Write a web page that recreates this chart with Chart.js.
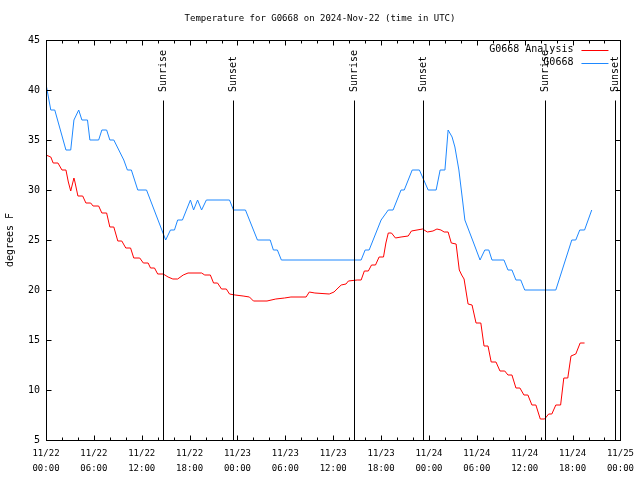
<!DOCTYPE html>
<html>
<head>
<meta charset="utf-8">
<script src="https://cdn.jsdelivr.net/npm/chart.js@4.4.1/dist/chart.umd.min.js"></script>
<style>
  html, body { margin: 0; padding: 0; background: #fff; }
  #wrap { width: 640px; height: 480px; }
</style>
</head>
<body>
<div id="wrap"><canvas id="chart" width="640" height="480"></canvas></div>
<script>
// hours since 2024-11-22 00:00 UTC
const obsHours = [0, 0.6, 1.1, 2.5, 3.1, 3.5, 4.1, 4.5, 5.2, 5.5, 6.6, 7.0, 7.6, 8.0, 8.5, 9.75, 10.2, 10.7, 11.5, 12.6,
  15.0, 15.6, 16.1, 16.5, 17.1, 18.1, 18.5, 19.0, 19.5, 20.1, 23.0, 23.5, 25.0, 26.5, 28.1, 28.5, 29.0, 29.5,
  39.5, 40.0, 40.5, 42.0, 42.9, 43.5, 44.5, 44.9, 45.9, 46.8, 47.9, 48.9, 49.4, 50.0, 50.4, 50.9, 51.25, 51.75,
  52.25, 52.5, 53.6, 54.4, 55.0, 55.5, 55.9, 57.4, 57.9, 58.4, 58.9, 59.5, 60.0, 63.9, 65.9, 66.4, 66.9, 67.5, 68.4];
const obsTemps = [40.6, 38, 38, 34, 34, 37, 38, 37, 37, 35, 35, 36, 36, 35, 35, 33, 32, 32, 30, 30,
  25, 26, 26, 27, 27, 29, 28, 29, 28, 29, 29, 28, 28, 25, 25, 24, 24, 23,
  23, 24, 24, 27, 28, 28, 30, 30, 32, 32, 30, 30, 32, 32, 36, 35.3, 34.3, 32,
  28.7, 27, 24.7, 23, 24, 24, 23, 23, 22, 22, 21, 21, 20, 20, 25, 25, 26, 26, 28];

const anaHours = [0, 0.6, 0.9, 1.5, 2.0, 2.5, 2.8, 3.1, 3.5, 3.6, 4.0, 4.6, 5.0, 5.6, 5.9, 6.6, 7.0, 7.6, 8.0, 8.5,
  9.0, 9.5, 10.0, 10.6, 11.0, 11.75, 12.2, 12.8, 13.1, 13.6, 14.0, 14.7, 15.3, 15.9, 16.5, 17.2, 17.8, 19.5,
  19.9, 20.6, 21.0, 21.5, 22.0, 22.6, 23.0, 23.7, 24.7, 25.5, 26.0, 27.7, 28.8, 29.9, 30.7, 32.6, 33.0, 33.7,
  35.5, 36.1, 36.6, 37.0, 37.6, 37.9, 39.0, 39.5, 39.9, 40.4, 40.8, 41.3, 41.75, 42.3, 42.6, 42.9, 43.3, 43.8,
  44.5, 45.4, 45.8, 47.2, 47.8, 48.5, 49.0, 49.5, 49.9, 50.4, 50.8, 51.4, 51.8, 52.1, 52.4, 52.9, 53.4, 53.9,
  54.5, 54.9, 55.4, 55.8, 56.4, 56.9, 57.5, 57.9, 58.4, 58.9, 59.4, 59.9, 60.4, 60.9, 61.4, 61.95, 62.5, 63.0,
  63.4, 63.9, 64.5, 64.9, 65.4, 65.8, 66.4, 66.95, 67.5];
const anaTemps = [33.5, 33.3, 32.7, 32.7, 32, 32, 30.8, 29.9, 31.2, 30.9, 29.4, 29.4, 28.7, 28.7, 28.4, 28.4, 27.7, 27.7, 26.3, 26.3,
  24.9, 24.9, 24.2, 24.2, 23.2, 23.2, 22.7, 22.7, 22.2, 22.2, 21.6, 21.6, 21.3, 21.1, 21.1, 21.5, 21.7, 21.7,
  21.5, 21.5, 20.7, 20.7, 20.1, 20.1, 19.6, 19.5, 19.4, 19.3, 18.9, 18.9, 19.1, 19.2, 19.3, 19.3, 19.8, 19.7,
  19.6, 19.8, 20.2, 20.5, 20.6, 20.9, 21, 21, 21.9, 21.9, 22.5, 22.5, 23.3, 23.3, 24.7, 25.7, 25.7, 25.2,
  25.3, 25.4, 25.9, 26.1, 25.8, 25.9, 26.1, 26.0, 25.8, 25.8, 24.7, 24.6, 22, 21.5, 21.1, 18.6, 18.5, 16.7,
  16.7, 14.4, 14.4, 12.8, 12.8, 11.9, 11.9, 11.5, 11.5, 10.2, 10.2, 9.5, 9.5, 8.5, 8.5, 7.1, 7.1, 7.6,
  7.6, 8.5, 8.5, 11.2, 11.2, 13.4, 13.6, 14.7, 14.7];

const sunHours = [14.66, 23.5, 38.66, 47.3, 62.5, 71.3];
const sunLabels = ['Sunrise', 'Sunset', 'Sunrise', 'Sunset', 'Sunrise', 'Sunset'];

const xTickLabels = [
  ['11/22', '00:00'], ['11/22', '06:00'], ['11/22', '12:00'], ['11/22', '18:00'],
  ['11/23', '00:00'], ['11/23', '06:00'], ['11/23', '12:00'], ['11/23', '18:00'],
  ['11/24', '00:00'], ['11/24', '06:00'], ['11/24', '12:00'], ['11/24', '18:00'],
  ['11/25', '00:00']
];

const seriesNames = ['G0668 Analysis', 'G0668'];
const seriesColors = ['#ff0000', '#1e88ff'];

const FONT = 'DejaVu Sans Mono';

function toPoints(xs, ys) {
  return xs.map((x, i) => ({ x: x, y: ys[i] }));
}

// cadre, graduations, lignes lever/coucher du soleil et légende façon gnuplot
const gnuplotDecor = {
  id: 'gnuplotDecor',
  afterDatasetsDraw(chart) {
    const { ctx, chartArea: a, scales } = chart;
    const xs = scales.x, ys = scales.y;
    ctx.save();
    ctx.strokeStyle = '#000';
    ctx.lineWidth = 1;
    ctx.translate(0.5, 0.5);

    ctx.beginPath();
    // graduations x (majeures 6h, mineures 2h)
    for (let h = 0; h <= 72; h += 2) {
      const px = Math.round(xs.getPixelForValue(h));
      const len = h % 6 === 0 ? 5 : 3;
      ctx.moveTo(px, Math.round(a.bottom)); ctx.lineTo(px, Math.round(a.bottom) - len);
      ctx.moveTo(px, Math.round(a.top)); ctx.lineTo(px, Math.round(a.top) + len);
    }
    // graduations y
    for (let v = 5; v <= 45; v += 5) {
      const py = Math.round(ys.getPixelForValue(v));
      ctx.moveTo(Math.round(a.left), py); ctx.lineTo(Math.round(a.left) + 5, py);
      ctx.moveTo(Math.round(a.right), py); ctx.lineTo(Math.round(a.right) - 5, py);
    }
    ctx.stroke();
    ctx.strokeRect(Math.round(a.left), Math.round(a.top), Math.round(a.right - a.left), Math.round(a.bottom - a.top));

    // lignes soleil
    const lineTop = a.bottom - 0.85 * (a.bottom - a.top);
    ctx.beginPath();
    sunHours.forEach(h => {
      const px = Math.round(xs.getPixelForValue(h));
      ctx.moveTo(px, Math.round(a.bottom)); ctx.lineTo(px, Math.round(lineTop));
    });
    ctx.stroke();
    ctx.restore();

    ctx.save();
    ctx.fillStyle = '#000';
    ctx.font = '10px "' + FONT + '"';
    ctx.textBaseline = 'middle';
    sunHours.forEach((h, i) => {
      const px = Math.round(xs.getPixelForValue(h)) + 0.5;
      ctx.save();
      ctx.translate(px, lineTop - 8);
      ctx.rotate(-Math.PI / 2);
      ctx.textAlign = 'left';
      ctx.fillText(sunLabels[i], 0, 0);
      ctx.restore();
    });

    // légende
    const textRight = a.right - 47;
    const lineX0 = a.right - 39, lineX1 = a.right - 12;
    seriesNames.forEach((name, i) => {
      const y = a.top + 9.5 + i * 13;
      ctx.textAlign = 'right';
      ctx.fillStyle = '#000';
      ctx.fillText(name, textRight, y);
      ctx.strokeStyle = seriesColors[i];
      ctx.lineWidth = 1;
      ctx.beginPath();
      ctx.moveTo(lineX0, Math.round(y) + 0.5);
      ctx.lineTo(lineX1, Math.round(y) + 0.5);
      ctx.stroke();
    });
    ctx.restore();
  }
};

const chart = new Chart(document.getElementById('chart').getContext('2d'), {
  type: 'line',
  data: {
    datasets: [
      {
        label: seriesNames[0],
        data: toPoints(anaHours, anaTemps),
        borderColor: seriesColors[0],
        borderWidth: 1,
        pointRadius: 0,
        tension: 0,
        fill: false
      },
      {
        label: seriesNames[1],
        data: toPoints(obsHours, obsTemps),
        borderColor: seriesColors[1],
        borderWidth: 1,
        pointRadius: 0,
        tension: 0,
        fill: false
      }
    ]
  },
  options: {
    responsive: false,
    animation: false,
    events: [],
    layout: { padding: 0 },
    plugins: {
      legend: { display: false },
      tooltip: { enabled: false },
      title: {
        display: true,
        text: 'Temperature for G0668 on 2024-Nov-22 (time in UTC)',
        color: '#000',
        font: { family: FONT, size: 9, weight: 'normal', lineHeight: 1.2 },
        padding: { top: 13.6, bottom: 15.6 }
      }
    },
    scales: {
      x: {
        type: 'linear',
        min: 0,
        max: 72,
        afterFit: s => { s.height = 40; },
        afterBuildTicks: s => { s.ticks = xTickLabels.map((_, i) => ({ value: i * 6 })); },
        grid: { display: false, drawTicks: false },
        border: { display: false },
        ticks: {
          color: '#000',
          padding: 6,
          maxRotation: 0,
          autoSkip: false,
          font: { family: FONT, size: 9, lineHeight: 1.667 },
          callback: (v, i) => xTickLabels[i]
        }
      },
      y: {
        min: 5,
        max: 45,
        afterFit: s => { s.width = 46; },
        grid: { display: false, drawTicks: false },
        border: { display: false },
        ticks: {
          stepSize: 5,
          color: '#000',
          padding: 6,
          font: { family: FONT, size: 10 }
        },
        title: {
          display: true,
          text: 'degrees F',
          color: '#000',
          font: { family: FONT, size: 10 },
          padding: { top: 4, bottom: 0 }
        }
      },
      // marge droite vide (comme gnuplot)
      yRight: {
        position: 'right',
        min: 5,
        max: 45,
        afterFit: s => { s.width = 19; },
        grid: { display: false, drawTicks: false },
        border: { display: false },
        ticks: { display: false }
      }
    }
  },
  plugins: [gnuplotDecor]
});
</script>
</body>
</html>
